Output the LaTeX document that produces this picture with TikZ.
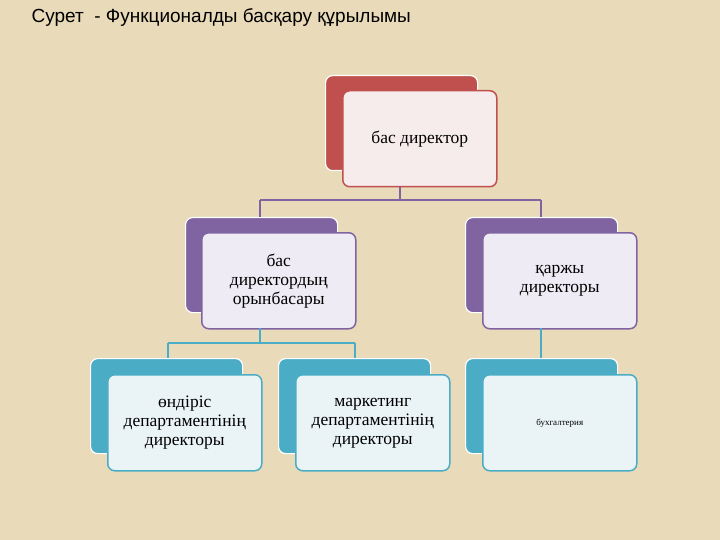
\documentclass[tikz,border=0pt]{standalone}
\usepackage{fontspec}
\setmainfont{Liberation Serif}
\newfontfamily\titlefont{Liberation Sans}
\definecolor{bg}{HTML}{E9DBB9}
\definecolor{cr}{HTML}{C0504D}\definecolor{fr}{HTML}{F7ECEC}
\definecolor{cp}{HTML}{8064A2}\definecolor{fp}{HTML}{EEEBF4}
\definecolor{ct}{HTML}{4BACC6}\definecolor{ft}{HTML}{EAF4F7}
\begin{document}
\begin{tikzpicture}[x=1pt,y=-1pt,
 backbox/.style={fill=#1,draw=white,line width=1.2pt,rounded corners=7pt,anchor=north west,minimum width=152pt,minimum height=95pt,inner sep=0},
 frontbox/.style={fill=#1,rounded corners=7pt,anchor=north west,minimum width=154pt,minimum height=96pt,align=center,inner sep=2pt,font=\fontsize{17.5}{19}\selectfont},
 link/.style={draw=#1,line width=1.2pt}]
\fill[bg] (0,0) rectangle (720,540);
\useasboundingbox (0,0) rectangle (720,540);
\node[anchor=north west,font=\titlefont\fontsize{19}{22}\selectfont] (title) at (28,5) {Сурет\ \ - Функционалды басқару құрылымы};
% top
\node[backbox=cr] (b0) at (325,75) {};
\node[frontbox=fr,draw=cr,line width=1.5pt] (f0) at (342,90) {бас директор};
% mid
\node[backbox=cp] (b1) at (185,217) {};
\node[frontbox=fp,draw=cp,line width=1.5pt] (f1) at (201,232) {бас\\директордың\\орынбасары};
\node[backbox=cp] (b2) at (465,217) {};
\node[frontbox=fp,draw=cp,line width=1.5pt] (f2) at (482,232) {қаржы\\директоры};
% bottom
\node[backbox=ct] (b3) at (90,358) {};
\node[frontbox=ft,draw=ct,line width=1.5pt] (f3) at (107,374) {өндіріс\\департаментінің\\директоры};
\node[backbox=ct] (b4) at (278,358) {};
\node[frontbox=ft,draw=ct,line width=1.5pt] (f4) at (295,374) {маркетинг\\департаментінің\\директоры};
\node[backbox=ct] (b5) at (465,358) {};
\node[frontbox=ft,draw=ct,line width=1.5pt,font=\fontsize{9}{11}\selectfont] (f5) at (482,374) {бухгалтерия};
% links
\coordinate (j0) at (400,200);
\draw[link=cp] (f0.south -| j0) -- (j0) (260,200) -- (541,200) (260,200) -- (260,217) (541,200) -- (541,217);
\draw[link=ct] (260,328) -- (260,343) (168,343) -- (355,343) (168,343) -- (168,358) (355,343) -- (355,358) (541,328) -- (541,358);
\end{tikzpicture}
\end{document}
